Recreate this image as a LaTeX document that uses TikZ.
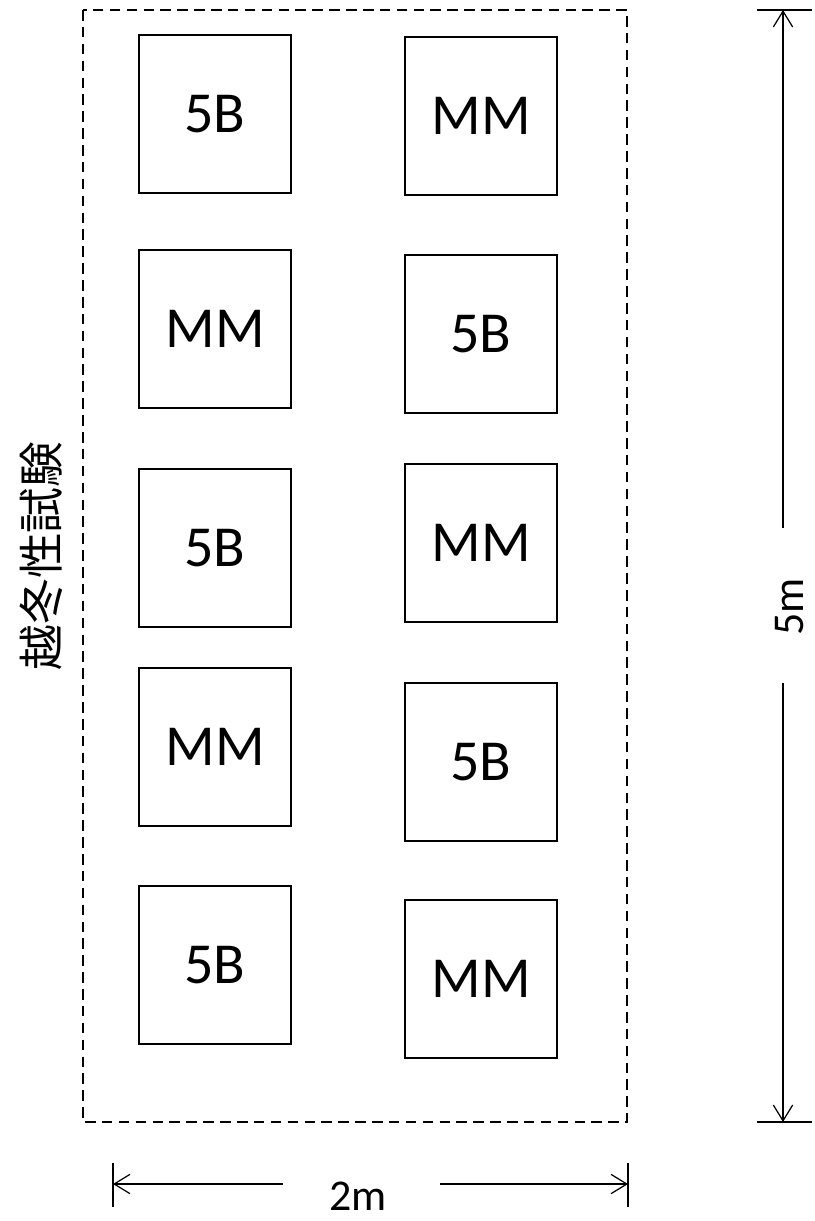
\documentclass[tikz,border=0pt]{standalone}
\usepackage{fontspec}
\setmainfont{Carlito}
\newfontfamily\jpfont{Noto Sans CJK JP}
\usetikzlibrary{arrows.meta}

\begin{document}
\begin{tikzpicture}[x=0.01cm,y=-0.01cm,
		plotbox/.style={draw,line width=0.7pt,minimum width=1.52cm,minimum height=1.58cm,inner sep=0pt,font=\fontsize{16.5}{19}\selectfont},
		dimline/.style={line width=0.35pt,-{Straight Barb[length=4.5pt,width=5.5pt]}},
		tick/.style={line width=0.35pt},
		dimlabel/.style={font=\fontsize{12.5}{14}\selectfont,inner sep=0pt}]
	\useasboundingbox (0,0) rectangle (814,1221);
	% field border
	\draw[line width=0.75pt,dash pattern=on 3pt off 1.8pt] (83,10) rectangle (627,1122);
	% plots
	\foreach \n/\y/\lab in {1/114/5B, 2/329/MM, 3/548/5B, 4/747/MM, 5/965/5B}
	{
		\node[plotbox] (left\n) at (215,\y) {\lab};
	}
	\foreach \n/\y/\lab in {1/116/MM, 2/334/5B, 3/543/MM, 4/762/5B, 5/979/MM}
	{
		\node[plotbox] (right\n) at (481,\y) {\lab};
	}
	\node[rotate=90,font=\jpfont\fontsize{13}{15}\selectfont] (title) at (41,556) {越冬性試験};
	% 5m
	\node[dimlabel,rotate=90] (len) at (790,607) {5m};
	\coordinate (top) at (783,10);
	\coordinate (bottom) at (783,1122);
	\coordinate (gapT) at (783,528);
	\coordinate (gapB) at (783,683);
	\draw[dimline] (gapT) -- (top);
	\draw[dimline] (gapB) -- (bottom);
	\draw[tick] ([shift={(-26,0)}]top) -- ([shift={(29,0)}]top);
	\draw[tick] ([shift={(-26,0)}]bottom) -- ([shift={(29,0)}]bottom);
	% 2m
	\node[dimlabel] (wid) at (358,1196) {2m};
	\coordinate (west) at (113,1184);
	\coordinate (east) at (628,1184);
	\coordinate (gapL) at (283,1184);
	\coordinate (gapR) at (440,1184);
	\draw[dimline] (gapL) -- (west);
	\draw[dimline] (gapR) -- (east);
	\draw[tick] ([shift={(0,-21)}]west) -- ([shift={(0,23)}]west);
	\draw[tick] ([shift={(0,-21)}]east) -- ([shift={(0,23)}]east);
\end{tikzpicture}
\end{document}
